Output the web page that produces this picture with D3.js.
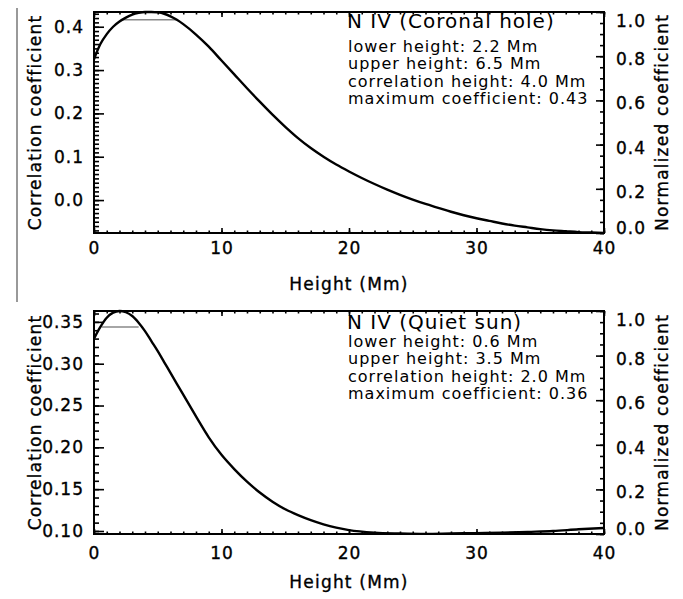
<!DOCTYPE html>
<html>
<head>
<meta charset="utf-8">
<script src="https://cdn.jsdelivr.net/npm/d3@7"></script>
<style>
  body { margin: 0; background: #fff; }
  text { font-family: "DejaVu Sans", sans-serif; fill: #000; }
  .heavy { stroke: #000; stroke-width: 0.35px; }
</style>
</head>
<body>
<svg id="chart" width="683" height="599"></svg>
<script>
// coronal hole curve (height in Mm, correlation coefficient)
const holeHeight = [0, 0.5, 1, 1.5, 2, 2.5, 3, 3.5, 4, 4.5, 5, 5.5, 6, 6.5, 7, 8, 9, 10, 11, 12, 13, 14, 15, 16, 17, 18, 19, 20, 21, 22, 23, 24, 25, 26, 27, 28, 29, 30, 31, 32, 33, 34, 35, 36, 37, 38, 39, 40];
const holeCoef = [0.325, 0.360, 0.383, 0.400, 0.412, 0.421, 0.428, 0.432, 0.434, 0.434, 0.433, 0.430, 0.424, 0.416, 0.406, 0.382, 0.354, 0.322, 0.290, 0.258, 0.227, 0.197, 0.169, 0.143, 0.120, 0.100, 0.082, 0.066, 0.051, 0.037, 0.024, 0.012, 0.001, -0.009, -0.018, -0.027, -0.035, -0.042, -0.048, -0.054, -0.059, -0.063, -0.067, -0.070, -0.072, -0.074, -0.075, -0.076];
const holeLines = ["lower height: 2.2 Mm", "upper height: 6.5 Mm", "correlation height: 4.0 Mm", "maximum coefficient: 0.43"];
const holeBand = [2.2, 6.5, 0.416];

// quiet sun curve
const quietHeight = [0, 0.5, 1, 1.5, 2, 2.5, 3, 3.5, 4, 4.5, 5, 5.5, 6, 7, 8, 9, 10, 11, 12, 13, 14, 15, 16, 17, 18, 19, 20, 22, 24, 26, 28, 30, 32, 34, 36, 38, 40];
const quietCoef = [0.330, 0.344, 0.355, 0.361, 0.363, 0.3615, 0.357, 0.349, 0.339, 0.327, 0.315, 0.302, 0.289, 0.263, 0.237, 0.212, 0.191, 0.174, 0.159, 0.146, 0.135, 0.126, 0.119, 0.113, 0.108, 0.104, 0.101, 0.098, 0.097, 0.0965, 0.097, 0.0975, 0.098, 0.099, 0.100, 0.102, 0.1035];
const quietLines = ["lower height: 0.6 Mm", "upper height: 3.5 Mm", "correlation height: 2.0 Mm", "maximum coefficient: 0.36"];
const quietBand = [0.6, 3.5, 0.344];

const xTicks = [0, 10, 20, 30, 40];
const normTicks = [0, 0.2, 0.4, 0.6, 0.8, 1.0];

const svg = d3.select("#chart");

// stray scan line on the left edge
svg.append("line").attr("x1", 17).attr("x2", 17).attr("y1", 8).attr("y2", 302)
  .attr("stroke", "#777").attr("stroke-width", 1.5);

function drawPanel(p) {
  const left = 94, right = 604;
  const x = d3.scaleLinear().domain([0, 40]).range([left, right]);
  const y = d3.scaleLinear().domain(p.yDomain).range([p.bottom, p.top]);
  const yn = d3.scaleLinear().domain([0, 1]).range([p.bottom, p.top]);
  const g = svg.append("g");

  // minor ticks first, then majors
  const xMinor = d3.range(0, 41, 1);
  g.append("g").attr("transform", `translate(0,${p.bottom})`)
    .call(d3.axisBottom(x).tickValues(xMinor).tickSize(-2.5).tickFormat(""));
  g.append("g").attr("transform", `translate(0,${p.top})`)
    .call(d3.axisTop(x).tickValues(xMinor).tickSize(-2.5).tickFormat(""));
  g.append("g").attr("transform", `translate(0,${p.top})`)
    .call(d3.axisTop(x).tickValues(xTicks).tickSize(-5).tickFormat(""));
  g.append("g").attr("class", "xlab").attr("transform", `translate(0,${p.bottom})`)
    .call(d3.axisBottom(x).tickValues(xTicks).tickSize(-5).tickPadding(p.xPad).tickFormat(d3.format("d")));

  g.append("g").attr("transform", `translate(${left},0)`)
    .call(d3.axisLeft(y).tickValues(p.yMinor).tickSize(-5).tickFormat(""));
  g.append("g").attr("class", "ylab").attr("transform", `translate(${left},0)`)
    .call(d3.axisLeft(y).tickValues(p.yTicks).tickSize(-10).tickPadding(10).tickFormat(d3.format(p.yFmt)));

  g.append("g").attr("transform", `translate(${right},0)`)
    .call(d3.axisRight(yn).tickValues(d3.range(0, 1.001, 0.05)).tickSize(-4).tickFormat(""));
  g.append("g").attr("class", "nlab").attr("transform", `translate(${right},0)`)
    .call(d3.axisRight(yn).tickValues(normTicks).tickSize(-8).tickPadding(12).tickFormat(d3.format(".1f")));

  g.selectAll(".domain").remove();
  g.selectAll(".tick line").attr("stroke", "#000").attr("stroke-width", 1.6);
  g.selectAll(".xlab text, .ylab text, .nlab text")
    .attr("class", "heavy")
    .style("font-size", "17px").style("letter-spacing", "1px")
    .style("font-family", "\"DejaVu Sans\", sans-serif");
  // end labels of the normalized axis sit inside the frame, as IDL does
  g.selectAll(".nlab .tick text").attr("dy", d => d === 1 ? "0.85em" : d === 0 ? "0.03em" : "0.5em");

  // frame
  g.append("rect").attr("x", left).attr("y", p.top)
    .attr("width", right - left).attr("height", p.bottom - p.top)
    .attr("fill", "none").attr("stroke", "#000").attr("stroke-width", 2);

  const clipId = "clip" + p.top;
  svg.append("clipPath").attr("id", clipId).append("rect")
    .attr("x", left).attr("y", p.top - 2).attr("width", right - left).attr("height", p.bottom - p.top + 4);

  // bar between lower and upper height
  g.append("line")
    .attr("x1", x(p.band[0])).attr("x2", x(p.band[1]))
    .attr("y1", y(p.band[2])).attr("y2", y(p.band[2]))
    .attr("stroke", "#888").attr("stroke-width", 1.5);

  const line = d3.line().x(d => x(d[0])).y(d => y(d[1])).curve(d3.curveMonotoneX);
  g.append("path").datum(d3.zip(p.h, p.c))
    .attr("clip-path", `url(#${clipId})`)
    .attr("d", line).attr("fill", "none").attr("stroke", "#000").attr("stroke-width", 2.4);

  // axis titles
  const axisTitle = sel => sel.attr("class", "heavy").attr("text-anchor", "middle")
    .style("font-size", "17px").style("letter-spacing", "1.2px");
  g.append("text").attr("x", 349).attr("y", p.xTitleY).call(axisTitle).text("Height (Mm)");
  const mid = (p.top + p.bottom) / 2;
  g.append("text").attr("transform", `translate(41,${mid}) rotate(-90)`)
    .call(axisTitle).text("Correlation coefficient");
  g.append("text").attr("transform", `translate(668,${mid}) rotate(-90)`)
    .call(axisTitle).text("Normalized coefficient");

  // annotation block
  g.append("text").attr("x", 347).attr("y", p.titleY)
    .style("font-size", "20px").style("letter-spacing", "1px").text(p.title);
  g.selectAll(".info").data(p.lines).join("text")
    .attr("x", 348).attr("y", (d, i) => p.lineY + i * 17.4)
    .style("font-size", "16px").style("letter-spacing", "1px").text(d => d);
}

drawPanel({
  top: 12, bottom: 233, yDomain: [-0.076, 0.434],
  yTicks: [0, 0.1, 0.2, 0.3, 0.4], yMinor: d3.range(-0.07, 0.435, 0.01), yFmt: ".1f",
  h: holeHeight, c: holeCoef, band: holeBand,
  title: "N IV (Coronal hole)", lines: holeLines, titleY: 28, lineY: 52,
  xPad: 9, xTitleY: 290
});

drawPanel({
  top: 311, bottom: 534, yDomain: [0.0964, 0.363],
  yTicks: [0.10, 0.15, 0.20, 0.25, 0.30, 0.35], yMinor: d3.range(0.10, 0.3631, 0.01), yFmt: ".2f",
  h: quietHeight, c: quietCoef, band: quietBand,
  title: "N IV (Quiet sun)", lines: quietLines, titleY: 329, lineY: 347,
  xPad: 13, xTitleY: 588
});
</script>
</body>
</html>
